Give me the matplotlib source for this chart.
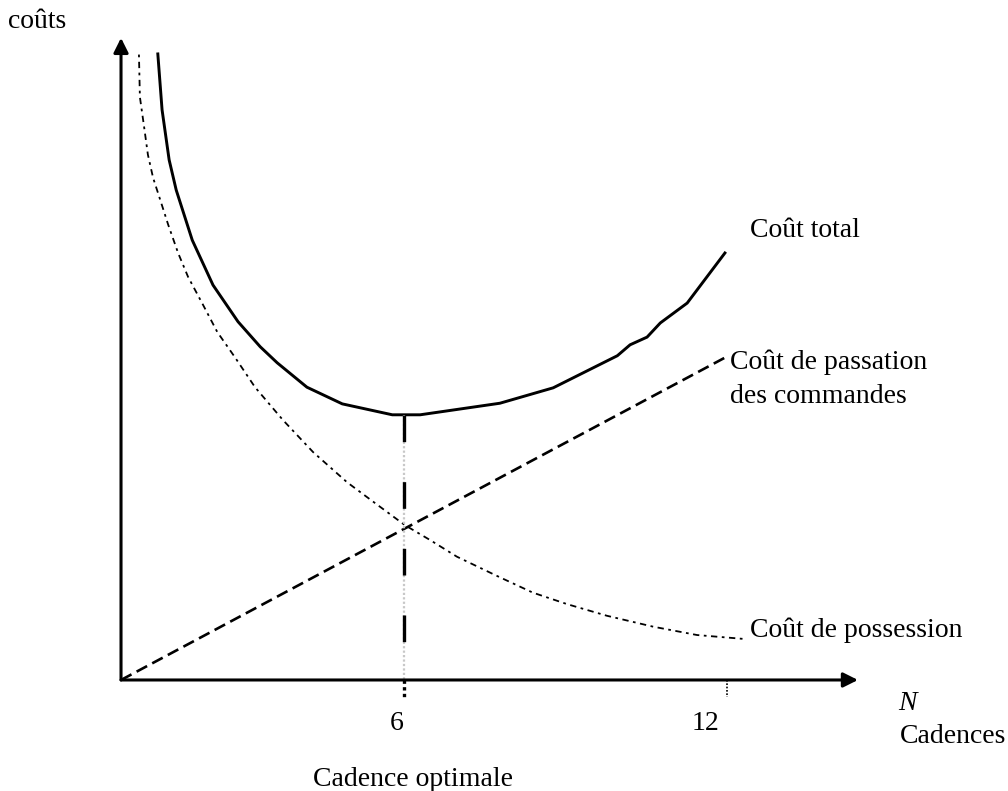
import matplotlib.pyplot as plt

N_total = [0.78, 0.87, 1.02, 1.17, 1.51, 1.95, 2.48, 2.95, 3.31, 3.94, 4.69, 5.75,
           6.34, 8.03, 9.16, 10.52, 10.79, 11.15, 11.43, 12.0, 12.80]
cout_total = [97.5, 88.8, 81.0, 76.3, 68.5, 61.5, 55.8, 51.9, 49.4, 45.6, 43.0, 41.3,
              41.3, 43.1, 45.5, 50.5, 52.2, 53.4, 55.6, 58.7, 66.5]

N_possession = [0.38, 0.40, 0.49, 0.57, 0.68, 0.83, 1.00, 1.21, 1.42, 1.74, 2.04, 2.42,
                2.84, 3.43, 4.07, 4.79, 5.43, 6.02, 6.55, 7.12, 7.97, 8.73, 9.46,
                10.30, 11.28, 12.21, 13.19]
cout_possession = [97.4, 90.8, 86.1, 81.8, 78.2, 74.8, 70.9, 66.5, 62.8, 58.4, 54.2, 50.2,
                   45.6, 40.5, 35.5, 30.8, 27.3, 24.1, 21.8, 19.2, 16.2, 13.6, 11.8,
                   10.0, 8.3, 7.0, 6.4]

N_passation = [0.0, 12.80]
cout_passation = [0.0, 50.2]

N_optimal = 6
cout_min = 41.3

tick_pos = [6.0, 12.85]
tick_labels = ['6', '12']

x_max = 15.62   # bout de la flèche N
y_max = 100.0   # bout de la flèche coûts

plt.rcParams['font.family'] = ['Liberation Serif', 'DejaVu Serif']
fs = 20

fig = plt.figure(figsize=(10.08, 7.91), dpi=100)
ax = fig.add_axes([0, 0, 1, 1])
ax.set_xlim(-2.565, 18.80)
ax.set_ylim(-17.29, 105.9)
ax.axis('off')

## Axes avec flèches
arrow = dict(arrowstyle='-|>', lw=2.2, color='black', mutation_scale=22,
             shrinkA=0, shrinkB=0)
ax.annotate('', xy=(x_max, 0), xytext=(0, 0), arrowprops=arrow)
ax.annotate('', xy=(0, y_max), xytext=(0, 0), arrowprops=arrow)

## Courbes
ax.plot(N_total, cout_total, color='black', lw=2.1, solid_joinstyle='miter')
ax.plot(N_passation, cout_passation, color='black', lw=1.9, linestyle=(0, (4.5, 2.2)))
ax.plot(N_possession, cout_possession, color='black', lw=1.3, linestyle=(0, (1.5, 2.5, 3.5, 2.5)))

## Cadence optimale (trait vertical)
ax.plot([N_optimal, N_optimal], [cout_min, 0], color='#c8c8c8', lw=1.6, linestyle=(0, (1, 1)))
ax.plot([N_optimal, N_optimal], [cout_min, 0], color='black', lw=2.4, linestyle=(0, (8, 12)))

## Graduations sous l'axe
for p in tick_pos:
    ax.plot([p, p], [0, -2.6], color='black', lw=1.2 if p != N_optimal else 2.4, linestyle=(0, (1, 1)))
label_x = [5.85, 12.38]
for lx, lab in zip(label_x, tick_labels):
    ax.text(lx, -7.8, lab, fontsize=fs, ha='center', va='baseline')

## Textes
ax.text(-2.40, 101.6, 'coûts', fontsize=fs, va='baseline')
ax.text(13.33, 69.0, 'Coût total', fontsize=fs, va='baseline')
ax.text(12.91, 48.4, 'Coût de passation', fontsize=fs, va='baseline')
ax.text(12.91, 43.1, 'des commandes', fontsize=fs, va='baseline')
ax.text(13.33, 6.7, 'Coût de possession', fontsize=fs, va='baseline')
ax.text(16.47, -4.7, 'N', fontsize=fs, va='baseline', style='italic')
ax.text(16.51, -9.8, 'Cadences', fontsize=fs, va='baseline')
ax.text(4.07, -16.5, 'Cadence optimale', fontsize=fs, va='baseline')

fig.savefig('out.png', dpi=100)
